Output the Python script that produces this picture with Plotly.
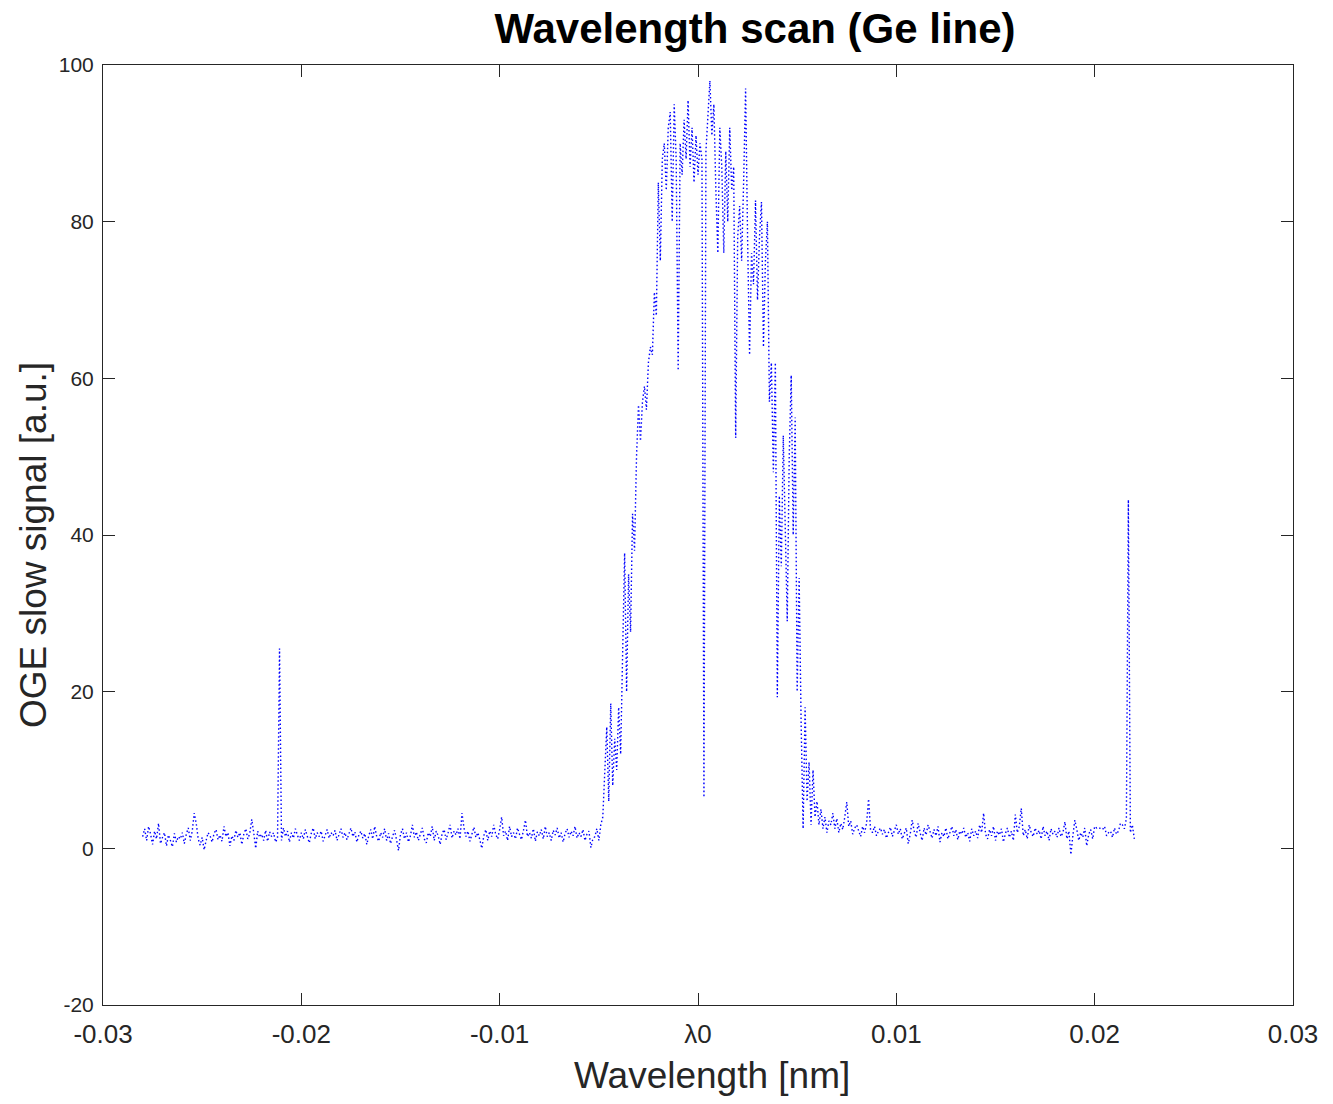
import numpy as np
import plotly.graph_objects as go

# Sampling grid (nm, relative to lambda0)
x_start = -0.028
x_step = 0.0001

baseline_left = [
    1.5, 2.5, 1.0, 2.8, 1.8, 0.5, 2.2, 1.2, 3.2, 0.6, 1.4, 2.0, 0.3, 1.7, 1.0, 0.2, 1.9, 0.8, 1.5, 1.2,
    2.0, 0.6, 1.8, 2.6, 1.0, 2.2, 4.5, 3.2, 1.2, 0.4, 1.4, -0.2, 1.0, 2.0, 1.6, 0.8, 1.9, 2.4, 1.1, 1.7,
    0.9, 2.8, 1.5, 2.0, 0.3, 1.6, 1.0, 2.3, 1.4, 2.0, 0.5, 1.8, 2.5, 1.2, 1.9, 3.7, 2.0, 0.0, 2.2, 1.4,
    1.8, 1.0, 2.3, 0.9, 2.1, 1.5, 2.0, 0.8, 1.3, 25.5, 1.0, 2.6, 1.5, 2.2, 0.8, 2.0, 1.3, 2.5, 1.7, 1.0,
    2.0, 1.2, 2.4, 1.6, 0.7, 1.9, 2.6, 1.2, 2.0, 1.5, 2.2, 0.9, 1.8, 2.4, 1.3, 2.0, 1.6, 2.3, 1.0, 1.9,
    2.5, 1.4, 2.0, 1.1, 1.8, 2.6, 1.5, 2.1, 0.8, 1.7, 2.2, 1.3, 1.9, 0.5, 1.6, 2.4, 1.2, 2.8, 1.5, 0.9,
    2.0, 1.4, 2.5, 1.0, 1.9, 0.6, 1.5, 2.3, 1.1, -0.3, 1.8, 2.5, 1.2, 2.0, 0.8, 1.6, 3.0, 1.4, 2.1, 1.0,
    1.8, 2.6, 1.2, 0.7, 2.0, 1.5, 2.8, 1.0, 2.2, 1.6, 0.5, 1.9, 2.4, 1.1, 2.0, 3.0, 1.3, 2.2, 1.7, 2.5,
    1.2, 4.5, 2.6, 1.5, 2.2, 0.9, 1.8, 2.7, 1.4, 2.0, 1.1, 0.0, 1.6, 2.4, 1.0, 2.2, 1.5, 3.0, 1.8, 1.2,
    2.4, 4.0, 1.6, 2.2, 1.0, 2.8, 1.5, 2.0, 1.2, 2.6, 1.8, 1.1, 2.3, 3.6, 1.5, 2.0, 1.3, 2.5, 0.9, 2.1,
    1.6, 2.4, 1.2, 2.8, 1.5, 2.0, 1.0, 2.3, 1.7, 2.6, 1.3, 2.0, 0.8, 1.9, 2.5, 1.4, 2.2, 1.6, 2.8, 1.3,
    2.0, 1.5, 2.4, 1.0, 1.8, 2.2, 0.1, 1.2,
]

peak = [
    1.5, 2.5, 1.0, 3.0, 4.0, 9.0, 15.5, 6.0, 18.5, 8.0,
    14.0, 10.0, 18.0, 12.0, 25.0, 37.7, 20.0, 35.0, 27.6, 42.7,
    38.0, 50.0, 56.6, 52.0, 57.0, 59.0, 56.0, 62.0, 64.0, 63.0,
    71.0, 68.0, 85.0, 75.0, 88.0, 90.0, 84.0, 92.0, 94.0, 80.0,
    95.0, 88.0, 61.0, 90.0, 86.0, 93.0, 88.0, 95.5, 87.0, 92.0,
    85.0, 91.0, 86.0, 90.0, 88.0, 6.5, 89.0, 94.0, 98.0, 91.0,
    95.0, 84.0, 76.0, 92.0, 87.0, 76.0, 89.0, 80.0, 92.0, 84.0,
    87.0, 52.4, 78.0, 82.0, 75.0, 85.0, 97.0, 78.0, 63.0, 76.0,
    72.0, 82.7, 70.0, 78.0, 82.5, 64.0, 75.0, 80.0, 57.0, 62.0,
    48.0, 62.0, 19.3, 45.0, 36.0, 52.7, 42.0, 29.0, 50.0, 60.4,
    40.0, 55.0, 20.0, 34.5, 16.0, 2.5, 18.0, 6.0, 11.0, 3.0,
    10.0, 4.0, 6.0, 3.0, 5.0, 2.5, 4.0, 2.0, 3.5,
]

baseline_right = [
    3.0, 4.5, 2.5, 3.8, 2.0, 3.2, 2.4, 4.0, 5.9, 2.8, 3.5, 1.8, 2.6, 3.0, 2.2, 1.5, 2.8, 2.0, 3.2, 6.3,
    2.4, 2.0, 2.8, 1.6, 2.2, 2.6, 1.8, 2.4, 1.3, 2.0, 2.7, 1.5, 2.2, 3.0, 1.8, 2.5, 1.2, 2.0, 2.6, 0.6,
    1.8, 3.6, 2.2, 1.4, 3.2, 2.0, 1.0, 2.6, 1.7, 3.0, 2.2, 1.3, 2.4, 1.6, 2.8, 0.8, 2.0, 1.5, 2.6, 1.2,
    2.0, 2.8, 1.6, 2.4, 1.1, 2.2, 1.8, 2.6, 1.4, 2.0, 0.9, 2.5, 1.6, 2.2, 1.3, 3.0, 2.0, 4.5, 1.8, 1.2,
    2.4, 1.6, 2.8, 1.0, 2.2, 1.7, 2.5, 0.8, 1.9, 2.6, 1.4, 2.2, 1.0, 4.3, 2.0, 2.8, 5.1, 1.6, 2.4, 1.2,
    3.0, 2.0, 1.5, 2.6, 1.8, 2.3, 1.2, 2.8, 1.6, 2.2, 1.0, 2.5, 1.8, 2.2, 1.4, 2.6, 1.5, 2.0, 3.4, 1.2,
    2.2, -0.8, 1.6, 3.6, 2.4, 1.0, 2.0, 1.4, 2.6, 0.3, 1.8, 2.4, 1.2, 2.8, 2.6, 2.7, 2.5, 2.4, 2.8, 1.6,
    2.0, 2.2, 1.4, 2.6, 1.8, 2.2, 3.2, 3.0, 2.5, 3.8, 44.5, 2.0, 3.0, 1.2,
]

signal = baseline_left + peak + baseline_right
wavelength = x_start + x_step * np.arange(len(signal))

x_tickvals = [-0.03, -0.02, -0.01, 0, 0.01, 0.02, 0.03]
x_ticktext = ["-0.03", "-0.02", "-0.01", "λ0", "0.01", "0.02", "0.03"]
y_tickvals = [-20, 0, 20, 40, 60, 80, 100]
y_ticktext = ["-20", "0", "20", "40", "60", "80", "100"]

axcol = "#262626"
font_family = "Liberation Sans, Arial, sans-serif"

L, R, T, B = 103, 40, 65, 99
W, H = 1333, 1104
plot_w = W - L - R
plot_h = H - T - B

fig = go.Figure()
fig.add_trace(go.Scatter(
    x=wavelength, y=signal, mode="lines",
    line=dict(color="rgb(0,0,255)", width=1.4, dash="1.5px,2.5px"),
    showlegend=False,
))

fig.update_layout(
    width=W, height=H,
    margin=dict(l=L, r=R, t=T, b=B),
    paper_bgcolor="white", plot_bgcolor="white",
    font=dict(family=font_family, color=axcol, size=20),
    title=dict(text="<b>Wavelength scan (Ge line)</b>", x=755 / W, xref="container",
               xanchor="center", y=1 - 28 / H, yref="container", yanchor="middle",
               font=dict(size=42, color="black", family=font_family)),
    xaxis=dict(range=[-0.03, 0.03], tickvals=x_tickvals, ticktext=x_ticktext,
               showgrid=False, zeroline=False, showline=True, linecolor=axcol, linewidth=1,
               mirror="ticks", ticks="inside", ticklen=12, tickcolor=axcol, tickwidth=1,
               ticklabelstandoff=6,
               tickfont=dict(size=26, color=axcol)),
    yaxis=dict(range=[-20, 100], tickvals=y_tickvals, ticktext=y_ticktext,
               showgrid=False, zeroline=False, showline=True, linecolor=axcol, linewidth=1,
               mirror="ticks", ticks="inside", ticklen=12, tickcolor=axcol, tickwidth=1,
               ticklabelstandoff=4,
               tickfont=dict(size=21, color=axcol)),
    annotations=[
        dict(text="Wavelength [nm]", x=(712 - L) / plot_w, y=(H - B - 1075) / plot_h,
             xref="paper", yref="paper",
             showarrow=False, font=dict(size=37, color=axcol), xanchor="center", yanchor="middle"),
        dict(text="OGE slow signal [a.u.]", x=(33 - L) / plot_w, y=(H - B - 545) / plot_h,
             xref="paper", yref="paper", showarrow=False, textangle=-90,
             font=dict(size=37, color=axcol), xanchor="center", yanchor="middle"),
    ],
)

fig.write_html("out.html")
